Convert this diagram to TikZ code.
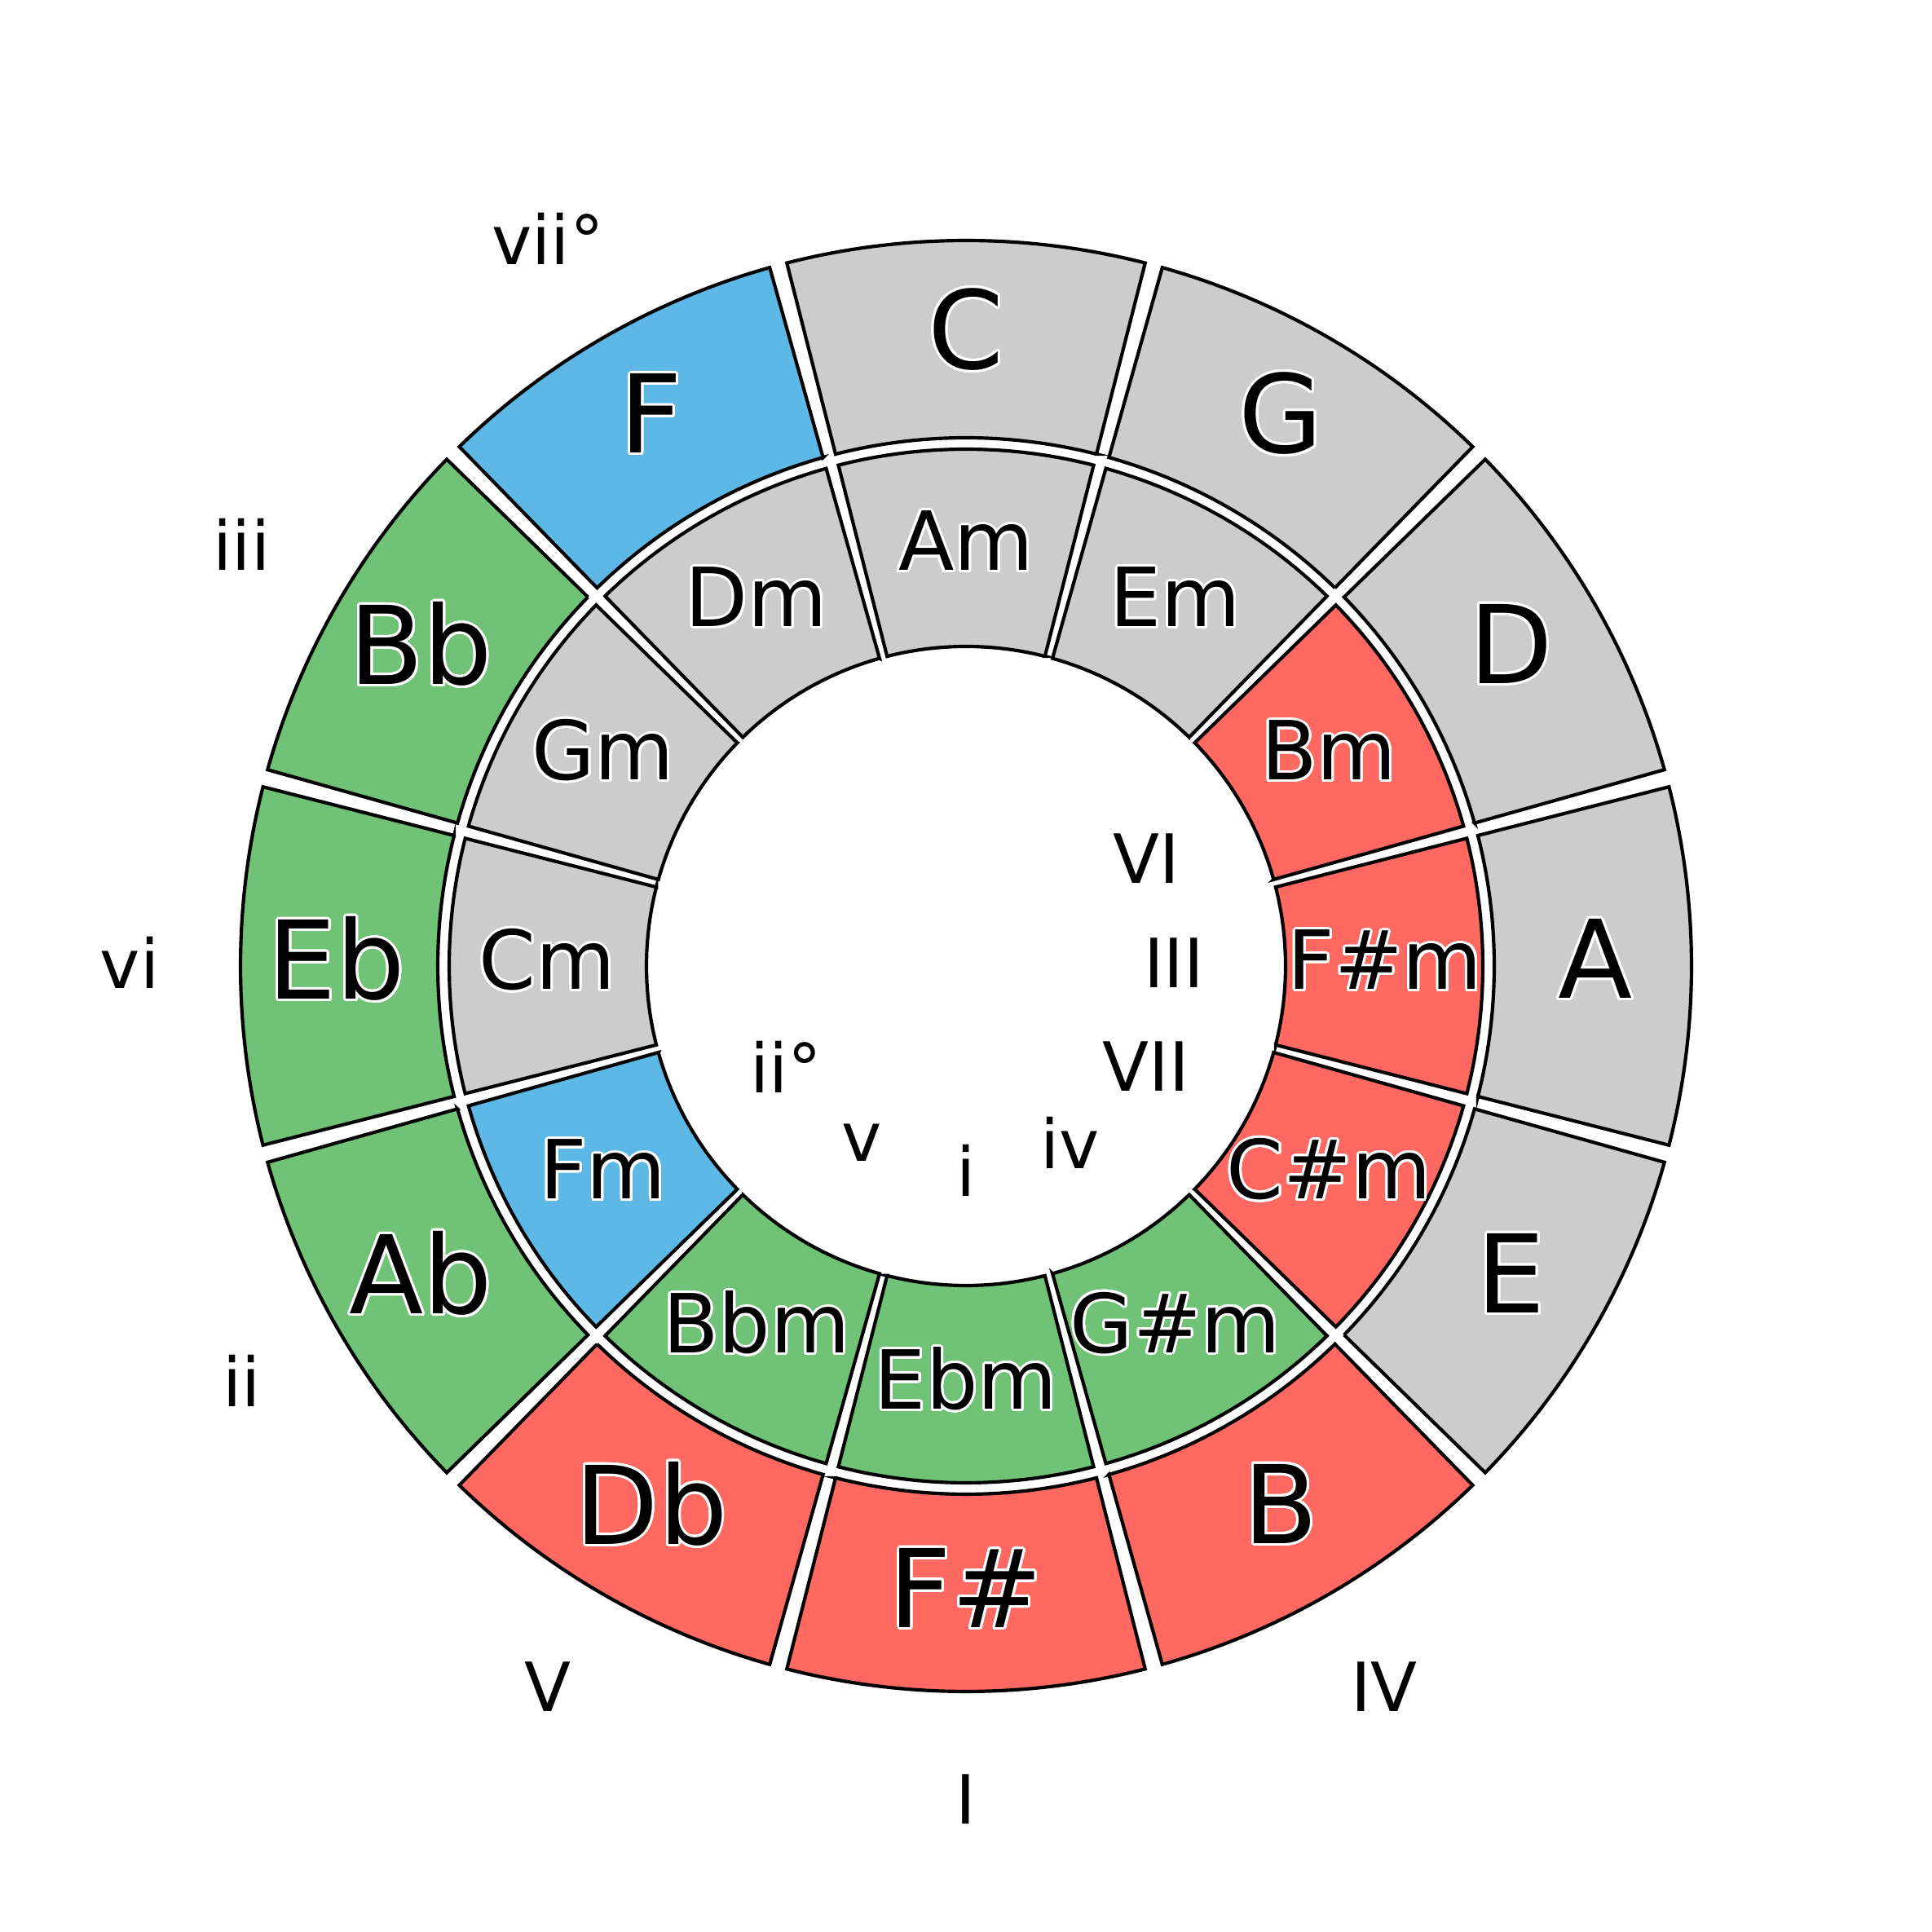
\documentclass[tikz,border=0pt]{standalone}
\usepackage{fontspec}
\setmainfont{DejaVu Sans}
\usepackage{contour}
\contourlength{0.03cm}
\contournumber{24}
\definecolor{cgray}{HTML}{CCCCCC}
\definecolor{cred}{HTML}{FF6961}
\definecolor{cgreen}{HTML}{70C277}
\definecolor{cblue}{HTML}{5DB8E6}
\tikzset{
  seg/.style={draw=black, line width=0.0417cm, line join=miter},
  major/.style={font=\fontsize{37.9}{40}\selectfont, inner sep=0pt, yshift=0.75mm},
  minor/.style={font=\fontsize{28.45}{30}\selectfont, inner sep=0pt, yshift=0.6mm},
  roman/.style={font=\fontsize{23.7}{25}\selectfont, inner sep=0pt, yshift=0.4mm}
}
\newcommand\ringseg[4]{%
  \pgfmathsetmacro\segA{#1-15+0.7}%
  \pgfmathsetmacro\segB{#1+15-0.7}%
  \draw[seg, fill=#4] (\segA:#2) -- (\segA:#3) arc[start angle=\segA, end angle=\segB, radius=#3]
    -- (\segB:#2) arc[start angle=\segB, end angle=\segA, radius=#2] -- cycle;}
\begin{document}
\begin{tikzpicture}
\useasboundingbox (0,0) rectangle (23.7,23.7);
\begin{scope}[shift={(11.85,11.85)}]
% outer ring: major chords
\foreach \ang/\txt/\col [count=\i] in {90/C/cgray, 60/G/cgray, 30/D/cgray, 0/A/cgray, -30/E/cgray,
  -60/B/cred, -90/F\#/cred, -120/Db/cred, -150/Ab/cgreen, 180/Eb/cgreen, 150/Bb/cgreen, 120/F/cblue}{
  \ringseg{\ang}{6.48}{8.90}{\col}
  \node[major] (maj\i) at (\ang:7.72) {\contour{white}{\txt}};
}
% inner ring: minor chords
\foreach \ang/\txt/\col [count=\i] in {90/Am/cgray, 60/Em/cgray, 30/Bm/cred, 0/F\#m/cred, -30/C\#m/cred,
  -60/G\#m/cgreen, -90/Ebm/cgreen, -120/Bbm/cgreen, -150/Fm/cblue, 180/Cm/cgray, 150/Gm/cgray, 120/Dm/cgray}{
  \ringseg{\ang}{3.92}{6.34}{\col}
  \node[minor] (min\i) at (\ang:5.14) {\contour{white}{\txt}};
}
% inner roman numerals
\node[roman] (rVI) at (30:2.55) {VI};
\node[roman] (rIII) at (0:2.55) {III};
\node[roman] (rVII) at (-30:2.55) {VII};
\node[roman] (riv) at (-60:2.55) {iv};
\node[roman] (ri) at (-90:2.55) {i};
\node[roman] (rv) at (-120:2.55) {v};
\node[roman] (riidim) at (-150:2.55) {ii°};
% outer roman numerals
\node[roman] (rviidim) at (120:10.26) {vii°};
\node[roman] (riii) at (150:10.26) {iii};
\node[roman] (rvi) at (180:10.26) {vi};
\node[roman] (rii) at (210:10.26) {ii};
\node[roman] (rV) at (240:10.26) {V};
\node[roman] (rI) at (270:10.26) {I};
\node[roman] (rIV) at (300:10.26) {IV};
\end{scope}
\end{tikzpicture}
\end{document}
